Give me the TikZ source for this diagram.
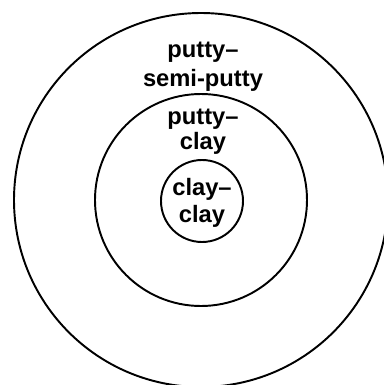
\documentclass[tikz,border=0pt]{standalone}
\usepackage{fontspec}
\setmainfont{Liberation Sans}

\begin{document}
\begin{tikzpicture}[
  ring/.style={draw,line width=1.1pt},  tag/.style={align=center,inner sep=0pt,font=\bfseries\fontsize{13.5}{15.5}\selectfont}
]
  \useasboundingbox (-4.02,-3.70) rectangle (3.66,4.00);
  \coordinate (c) at (0,0);
  \draw[ring] (c) circle (3.74);
  \draw[ring] (c) circle (2.12);
  \draw[ring] (0.02,-0.02) circle (0.82);
  \node[tag,font=\bfseries\fontsize{13.5}{16.5}\selectfont] (lout) at (0.04,2.66) {putty–\\semi-putty};
  \node[tag,font=\bfseries\fontsize{13.5}{14.2}\selectfont] (lmid) at (0.04,1.36) {putty–\\clay};
  \node[tag] (lin) at (0.02,-0.06) {clay–\\clay};
\end{tikzpicture}
\end{document}
